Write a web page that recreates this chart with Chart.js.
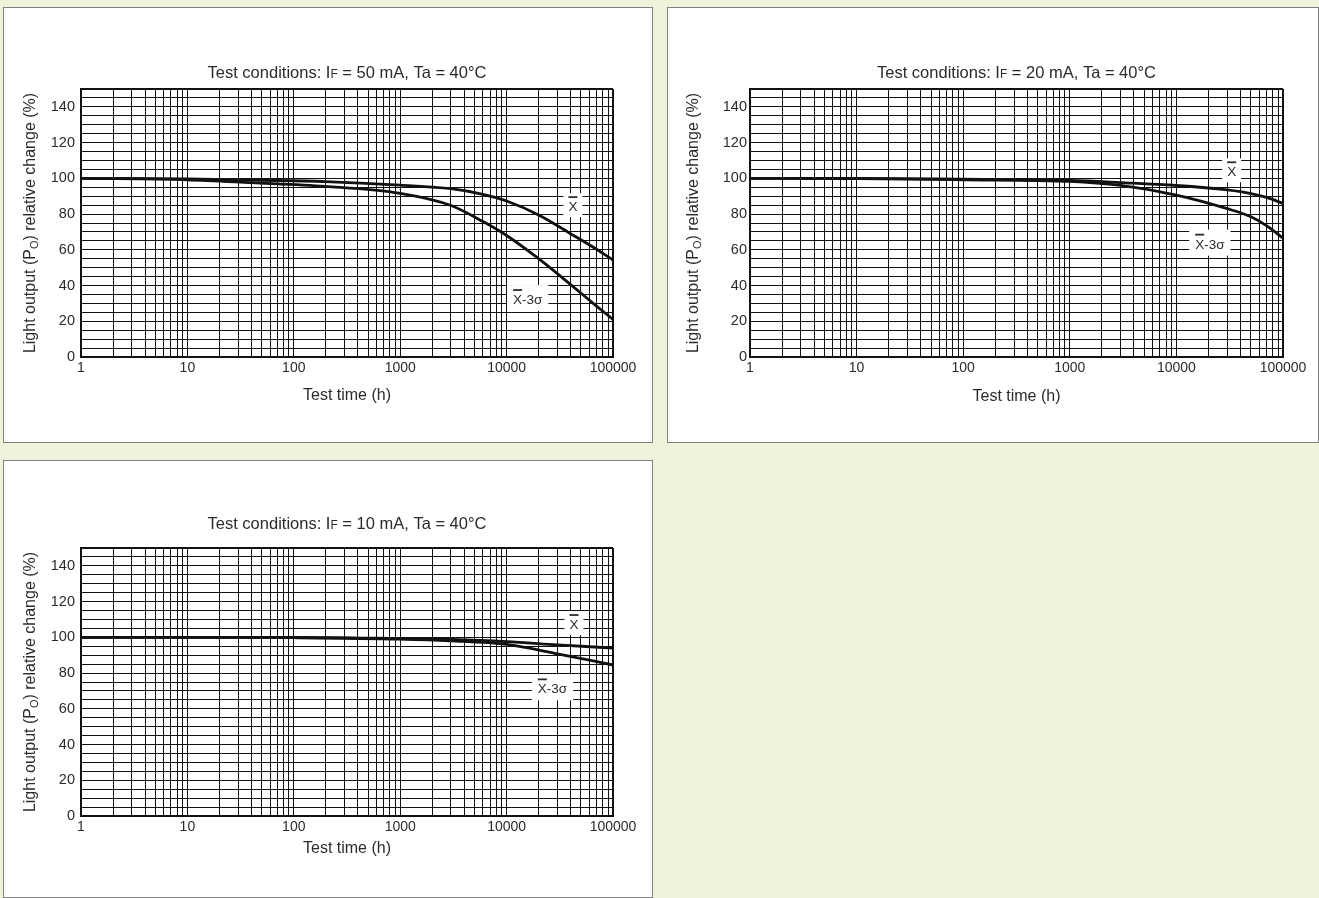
<!DOCTYPE html>
<html>
<head>
<meta charset="utf-8">
<script src="https://cdn.jsdelivr.net/npm/chart.js@4.4.0/dist/chart.umd.min.js"></script>
<style>
body { margin: 0; background: #eef3dc; width: 1319px; height: 898px; overflow: hidden; position: relative; }
.panel { position: absolute; background: #fff; border: 1px solid #808080; box-sizing: border-box; }
.panel canvas { display: block; }
</style>
</head>
<body>
<div class="panel" style="left:3px;top:7px;width:650px;height:436px"><canvas id="c50"></canvas></div>
<div class="panel" style="left:667px;top:7px;width:652px;height:436px"><canvas id="c20"></canvas></div>
<div class="panel" style="left:3px;top:460px;width:650px;height:438px"><canvas id="c10"></canvas></div>
<script>
const FONT = '"Liberation Sans", Arial, Helvetica, sans-serif';
const INK = "#111";
const TEXT = "#2b2b2b";

// axes
const xDecades = [1, 10, 100, 1000, 10000, 100000];
const xMinor = [1, 2, 3, 4, 5, 6, 7, 8, 9];
const yLabels = [0, 20, 40, 60, 80, 100, 120, 140];
const yMax = 150;
const yStep = 5;

// IF = 50 mA
const t50 = [1, 10, 40, 200, 1000, 3000, 6000, 10000, 20000, 40000, 70000, 100000];
const mean50 = [100, 99.7, 99, 98.2, 96.2, 94.2, 91, 87.3, 79.5, 69, 60.3, 54.3];
const low50 = [100, 99.2, 97.6, 95.5, 91.6, 84.8, 75.8, 68, 55, 40.5, 28.5, 21];

// IF = 20 mA
const t20 = [1, 10, 100, 1000, 3000, 10000, 30000, 50000, 70000, 100000];
const mean20 = [100, 100, 99.5, 98.8, 97.6, 96, 93.5, 91.5, 89.3, 86];
const low20 = [100, 99.8, 99.2, 98.3, 96, 90.6, 83, 78.5, 73.5, 66.5];

// IF = 10 mA
const t10 = [1, 10, 100, 1000, 3000, 10000, 30000, 100000];
const mean10 = [100, 100, 100, 99.3, 98.8, 97.6, 95.8, 94];
const low10 = [100, 100, 99.8, 99, 98, 96, 90.8, 84.5];

const xGrid = [];
xDecades.slice(0, -1).forEach(d => xMinor.forEach(m => xGrid.push(d * m)));
xGrid.push(100000);
const yGrid = [];
for (let v = 0; v <= yMax; v += yStep) yGrid.push(v);

function pts(ts, vs) {
    return ts.map((t, i) => ({x: t, y: vs[i]}));
}

function drawRich(ctx, parts, x, y) {
    let total = 0;
    parts.forEach(p => {
        ctx.font = `${p.size}px ${FONT}`;
        p.w = ctx.measureText(p.text).width;
        total += p.w;
    });
    let cx = x - total / 2;
    ctx.textAlign = "left";
    ctx.textBaseline = "alphabetic";
    parts.forEach(p => {
        ctx.font = `${p.size}px ${FONT}`;
        ctx.fillText(p.text, cx, y + (p.dy || 0));
        cx += p.w;
    });
}

function drawTag(ctx, scales, tag) {
    const px = scales.x.getPixelForValue(tag.x);
    const py = scales.y.getPixelForValue(tag.y);
    ctx.font = `13.5px ${FONT}`;
    const wX = ctx.measureText("X").width;
    const wRest = tag.sigma ? ctx.measureText("-3σ").width : 0;
    const w = wX + wRest;
    const bw = w + (tag.sigma ? 12 : 10);
    const bh = tag.sigma ? 26 : 24;
    ctx.fillStyle = "#fff";
    ctx.fillRect(px - bw / 2, py - bh / 2, bw, bh);
    ctx.fillStyle = TEXT;
    ctx.textAlign = "left";
    ctx.textBaseline = "alphabetic";
    const left = px - w / 2;
    const base = py + 6;
    ctx.fillText("X", left, base);
    if (tag.sigma) ctx.fillText("-3σ", left + wX, base);
    ctx.strokeStyle = TEXT;
    ctx.lineWidth = 1.8;
    ctx.beginPath();
    ctx.moveTo(left, base - 14);
    ctx.lineTo(left + wX, base - 14);
    ctx.stroke();
}

function makeChart(id, cfg) {
    const textPlugin = {
        id: "panelText",
        afterDatasetsDraw(chart) {
            const ctx = chart.ctx;
            ctx.save();
            cfg.tags.forEach(tag => drawTag(ctx, chart.scales, tag));
            ctx.restore();
        },
        afterDraw(chart) {
            const ctx = chart.ctx;
            const a = chart.chartArea;
            const mid = (a.left + a.right) / 2;
            ctx.save();
            ctx.fillStyle = TEXT;
            drawRich(ctx, [
                {text: "Test conditions: I", size: 16.5},
                {text: "F", size: 12},
                {text: ` = ${cfg.current} mA, Ta = 40°C`, size: 16.5}
            ], mid, a.top - cfg.titleGap);
            drawRich(ctx, [{text: "Test time (h)", size: 16}], mid, a.bottom + cfg.xTitleGap);
            ctx.translate(a.left - cfg.yTitleGap, (a.top + a.bottom) / 2);
            ctx.rotate(-Math.PI / 2);
            drawRich(ctx, [
                {text: "Light output (P", size: 16},
                {text: "O", size: 11, dy: 3},
                {text: ") relative change (%)", size: 16}
            ], 0, 0);
            ctx.restore();
        }
    };

    new Chart(document.getElementById(id), {
        type: "line",
        data: {
            datasets: [
                {data: pts(cfg.t, cfg.mean), borderColor: INK, borderWidth: 2.8, pointRadius: 0, cubicInterpolationMode: "monotone", fill: false},
                {data: pts(cfg.t, cfg.low), borderColor: INK, borderWidth: 2.8, pointRadius: 0, cubicInterpolationMode: "monotone", fill: false}
            ]
        },
        options: {
            responsive: true,
            maintainAspectRatio: false,
            animation: false,
            events: [],
            layout: {padding: {left: 0, top: cfg.padTop, right: cfg.padRight, bottom: 0}},
            plugins: {legend: {display: false}, tooltip: {enabled: false}},
            scales: {
                x: {
                    type: "logarithmic",
                    min: 1,
                    max: 100000,
                    afterFit: s => { s.height = cfg.xAxisH; },
                    afterBuildTicks: s => { s.ticks = xGrid.map(v => ({value: v})); },
                    grid: {color: INK, drawTicks: false, lineWidth: c => (c.tick && c.tick.value === 100000 ? 2 : 1)},
                    border: {color: INK, width: 2},
                    ticks: {
                        autoSkip: false, maxRotation: 0, padding: 3, color: TEXT,
                        font: {family: FONT, size: 14},
                        callback: v => (xDecades.includes(v) ? String(v) : "")
                    }
                },
                y: {
                    min: 0,
                    max: yMax,
                    afterFit: s => { s.width = cfg.yAxisW; },
                    afterBuildTicks: s => { s.ticks = yGrid.map(v => ({value: v})); },
                    grid: {color: INK, drawTicks: false, lineWidth: c => (c.tick && c.tick.value === yMax ? 2 : 1)},
                    border: {color: INK, width: 2},
                    ticks: {
                        autoSkip: false, padding: cfg.yPad, color: TEXT,
                        font: {family: FONT, size: 14.5},
                        callback: v => (yLabels.includes(v) ? String(v) : "")
                    }
                }
            }
        },
        plugins: [textPlugin]
    });
}

makeChart("c50", {
    current: 50, t: t50, mean: mean50, low: low50,
    padTop: 81, padRight: 39, xAxisH: 85, yAxisW: 77, yPad: 6,
    titleGap: 11, xTitleGap: 43, yTitleGap: 46,
    tags: [{x: 42000, y: 85}, {x: 15800, y: 33, sigma: true}]
});

makeChart("c20", {
    current: 20, t: t20, mean: mean20, low: low20,
    padTop: 81, padRight: 35, xAxisH: 85, yAxisW: 82, yPad: 3,
    titleGap: 11, xTitleGap: 44, yTitleGap: 52,
    tags: [{x: 33000, y: 104.5}, {x: 20600, y: 64, sigma: true}]
});

makeChart("c10", {
    current: 10, t: t10, mean: mean10, low: low10,
    padTop: 87, padRight: 39, xAxisH: 81, yAxisW: 77, yPad: 6,
    titleGap: 19, xTitleGap: 37, yTitleGap: 46,
    tags: [{x: 43000, y: 108}, {x: 27000, y: 72, sigma: true}]
});
</script>
</body>
</html>
